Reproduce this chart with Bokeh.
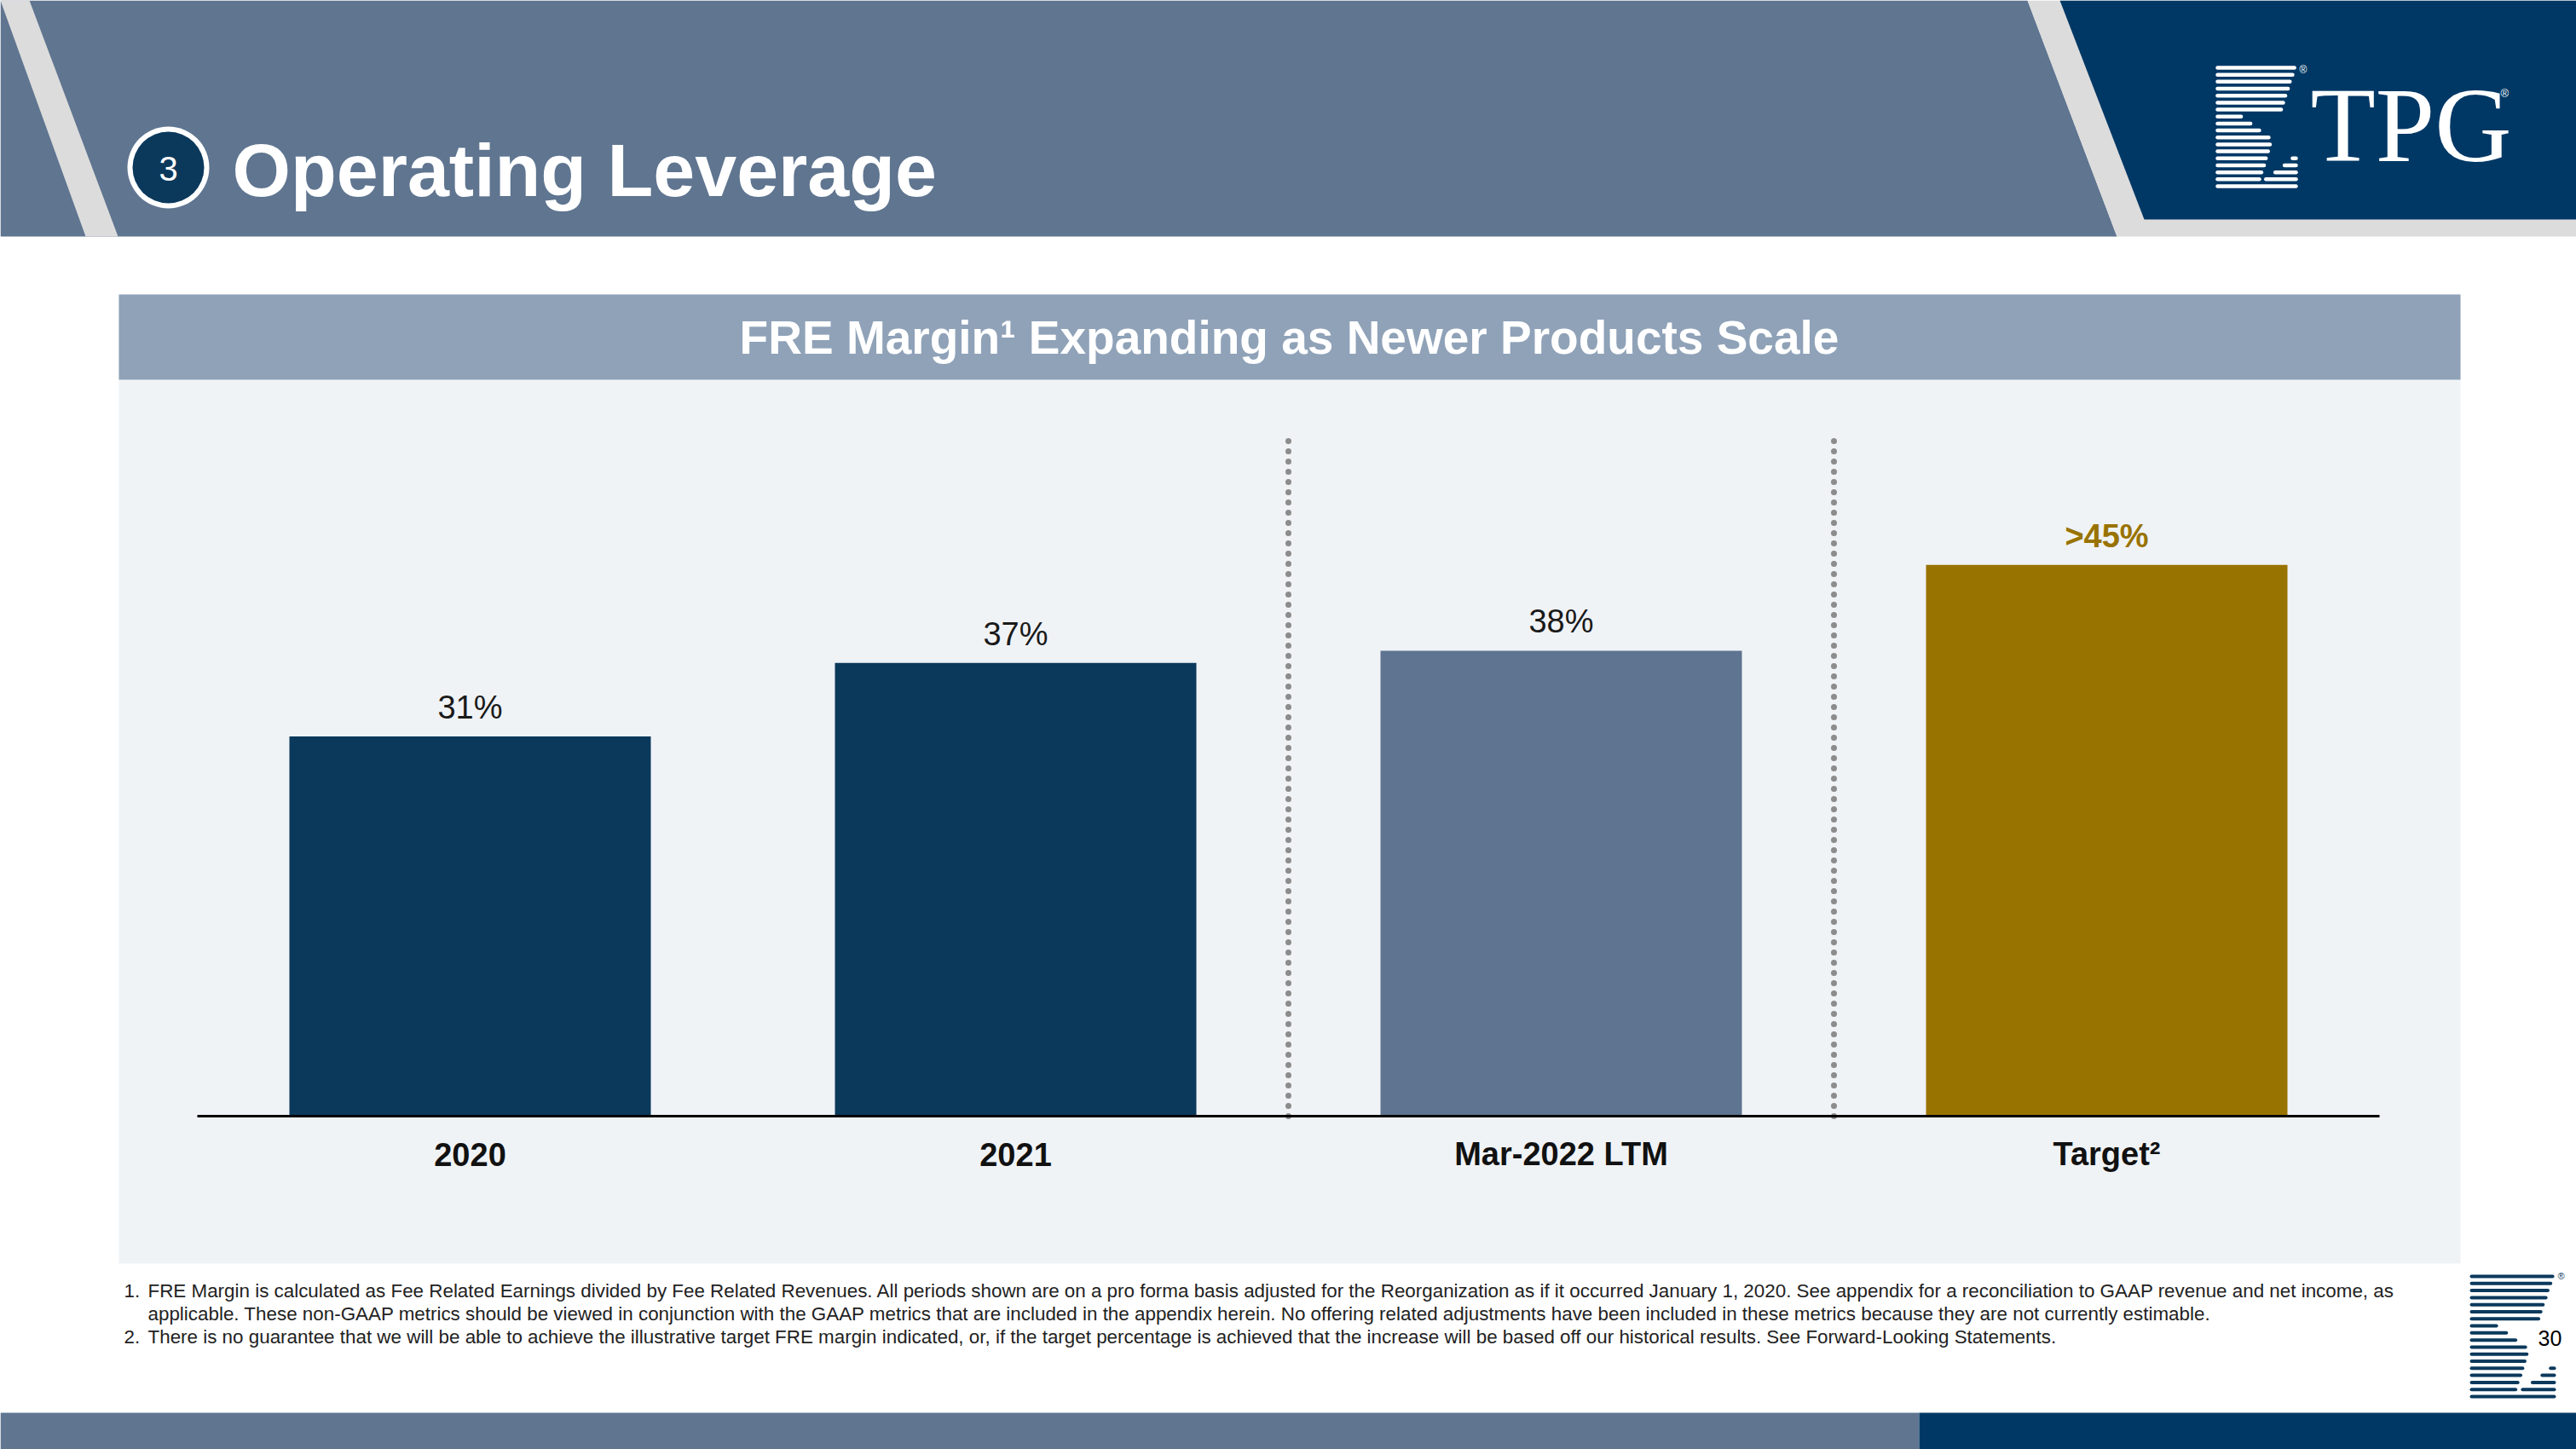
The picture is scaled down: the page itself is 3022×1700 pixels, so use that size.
from bokeh.plotting import figure
from bokeh.models import Range1d, ColumnDataSource
from bokeh.embed import file_html
from bokeh.resources import INLINE
from bokeh.core.properties import value

# ---------------- data ----------------
categories = ["2020", "2021", "Mar-2022 LTM", "Target²"]
margins = [31, 37, 38, 45]
margin_labels = ["31%", "37%", "38%", ">45%"]
bar_colors = ["#0b395c", "#0b395c", "#5e7490", "#997300"]
label_colors = ["#1a1a1a", "#1a1a1a", "#1a1a1a", "#997300"]
label_weights = ["normal", "normal", "normal", "bold"]
separators_after = [2, 3]

section_number = "3"
page_title = "Operating Leverage"
panel_title = "FRE Margin¹ Expanding as Newer Products Scale"
footnote_numbers = ["1.", "2."]
footnote_lines = [
    "FRE Margin is calculated as Fee Related Earnings divided by Fee Related Revenues. All periods shown are on a pro forma basis adjusted for the Reorganization as if it occurred January 1, 2020. See appendix for a reconciliation to GAAP revenue and net income, as",
    "applicable. These non-GAAP metrics should be viewed in conjunction with the GAAP metrics that are included in the appendix herein. No offering related adjustments have been included in these metrics because they are not currently estimable.",
    "There is no guarantee that we will be able to achieve the illustrative target FRE margin indicated, or, if the target percentage is achieved that the increase will be based off our historical results. See Forward-Looking Statements.",
]
page_number = "30"

# ---------------- styling / layout ----------------
FONT = value("Liberation Sans")
SERIF = value("Liberation Serif")
SLATE = "#5f7590"
NAVY = "#003865"
BAR_NAVY = "#0b395c"
LIGHT_GRAY = "#dcdcdc"
PANEL_BG = "#f0f3f6"
PANEL_HEAD = "#8fa2b8"
MID = 0.35  # baseline -> middle of em box, as a fraction of font size

W, H = 3022, 1700
X0, X1 = 0, W
Y0, Y1 = 0, H

AX_LEFT, AX_Y = 231, 1309
PX_PER_CAT = 640.0
PX_PER_PCT = 14.37

p = figure(width=W, height=H, x_range=Range1d(X0, X1), y_range=Range1d(Y1, Y0),
           output_backend="svg", toolbar_location=None, min_border=0,
           x_axis_location=None, y_axis_location=None)
p.outline_line_color = None
p.grid.visible = False
p.background_fill_color = "white"
p.border_fill_color = "white"

p.extra_x_ranges = {"cat": Range1d((X0 - AX_LEFT) / PX_PER_CAT, (X1 - AX_LEFT) / PX_PER_CAT)}
p.extra_y_ranges = {"pct": Range1d(-(Y1 - AX_Y) / PX_PER_PCT, (AX_Y - Y0) / PX_PER_PCT)}


def page_text(x, baseline, text, size, color, font=FONT, style="normal", align="left"):
    ys = [b - MID * size for b in baseline]
    p.text(x=x, y=ys, text=text, text_font=font, text_font_size=f"{size}px",
           text_font_style=style, text_color=color, text_align=align, text_baseline="middle")


# ---------------- header ----------------
p.patch([0, 2378, 2483, 0], [0, 0, 277, 277], color=SLATE, line_width=0)
p.patch([0, 34, 138, 100], [0, 0, 277, 277], color=LIGHT_GRAY, line_width=0)
p.patch([2378, 3022, 3022, 2483], [0, 0, 277, 277], color=LIGHT_GRAY, line_width=0)
p.patch([2416, 3022, 3022, 2515], [0, 0, 257, 257], color=NAVY, line_width=0)

p.circle(x=[197], y=[196], radius=48, radius_units="screen", fill_color="white", line_width=0)
p.circle(x=[197], y=[196], radius=42, radius_units="screen", fill_color=BAR_NAVY, line_width=0)
p.text(x=[197], y=[197], text=[section_number], text_font=FONT, text_font_size="40px",
       text_color="white", text_align="center", text_baseline="middle")
page_text([272], [230], [page_title], 88, "white", style="bold")

# logo stripes (fractions of icon width)
logo_rows = [
    [(0, .98)], [(0, .956)], [(0, .922)], [(0, .898)], [(0, .864)], [(0, .837)], [(0, .81)],
    [(0, .30)], [(0, .42)], [(0, .532)], [(0, .651)], [(0, .668)], [(0, .644)],
    [(0, .617), (.956, 1.0)], [(0, .593), (.854, 1.0)], [(0, .559), (.736, 1.0)],
    [(0, .532), (.617, 1.0)], [(0, 1.0)],
]


def draw_icon(x0, width, y_first, y_last, color, thick):
    n = len(logo_rows)
    step = (y_last - y_first) / (n - 1)
    xs0, xs1, ys = [], [], []
    for i, row in enumerate(logo_rows):
        for a, b in row:
            xs0.append(x0 + a * width)
            xs1.append(x0 + b * width)
            ys.append(y_first + i * step)
    p.segment(x0=xs0, y0=ys, x1=xs1, y1=ys, line_color=color, line_width=thick, line_cap="round")


draw_icon(2601, 92, 79, 218, "white", 4.5)
page_text([2697], [86], ["®"], 12, "white")
page_text([2710], [190], ["TPG"], 125, "white", font=SERIF)
page_text([2933], [114], ["®"], 13, "white")

# ---------------- panel ----------------
p.quad(left=[139], right=[2886], top=[345], bottom=[1482], color=PANEL_BG, line_width=0)
p.quad(left=[139], right=[2886], top=[345], bottom=[445], color=PANEL_HEAD, line_width=0)
page_text([1512], [415], [panel_title], 55, "white", style="bold", align="center")

# ---------------- chart ----------------
xpos = [i + 0.5 for i in range(len(categories))]
src = ColumnDataSource(dict(x=xpos, top=margins, color=bar_colors, label=margin_labels,
                            lcolor=label_colors, weight=label_weights, cat=categories))

p.vbar(x="x", top="top", bottom=0, width=0.6625, color="color", line_width=0, source=src,
       x_range_name="cat", y_range_name="pct")

sep_top = (AX_Y - 514) / PX_PER_PCT
for s in separators_after:
    p.line(x=[s, s], y=[0, sep_top], x_range_name="cat", y_range_name="pct",
           line_color="#8c8c8c", line_width=7, line_dash="0 12", line_cap="round")

p.line(x=[0, len(categories)], y=[0, 0], x_range_name="cat", y_range_name="pct",
       line_color="black", line_width=3)

LBL = 38
p.text(x="x", y="top", text="label", source=src, x_range_name="cat", y_range_name="pct",
       text_font=FONT, text_font_size=f"{LBL}px", text_color="lcolor", text_font_style="weight",
       text_align="center", text_baseline="middle", y_offset=-21 - MID * LBL)

p.text(x="x", y=0, text="cat", source=src, x_range_name="cat", y_range_name="pct",
       text_font=FONT, text_font_size=f"{LBL}px", text_font_style="bold", text_color="#111111",
       text_align="center", text_baseline="middle", y_offset=58 - MID * LBL)

# ---------------- footnotes ----------------
fn_base = [1522, 1549, 1576]
page_text([145, 145], [fn_base[0], fn_base[2]], footnote_numbers, 22.4, "#222222")
page_text([173, 173, 173], fn_base, footnote_lines, 22.4, "#222222")

# ---------------- bottom ----------------
draw_icon(2899, 97, 1497, 1638, BAR_NAVY, 4)
page_text([3000], [1500], ["®"], 11, BAR_NAVY)
page_text([2977], [1578], [page_number], 25, "black")

p.quad(left=[0], right=[2251], top=[1657], bottom=[1700], color=SLATE, line_width=0)
p.quad(left=[2251], right=[3022], top=[1657], bottom=[1700], color=NAVY, line_width=0)

open("out.html", "w").write(file_html(p, INLINE))
